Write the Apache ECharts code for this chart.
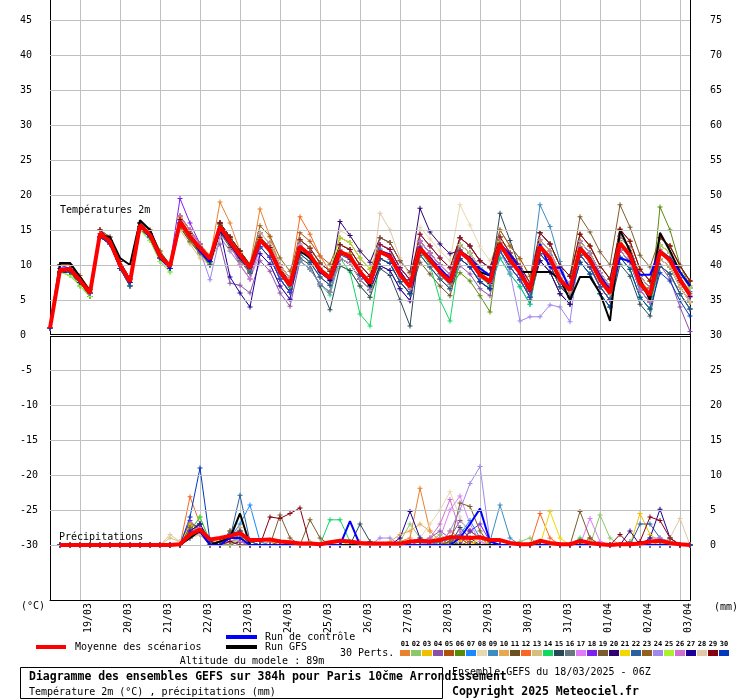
<!DOCTYPE html>
<html><head><meta charset="utf-8">
<script src="https://cdn.jsdelivr.net/npm/echarts@6/dist/echarts.min.js"></script>
<style>html,body{margin:0;padding:0;background:#fff}#c{width:740px;height:700px}</style>
</head><body><div id="c"></div>
<script>
// ---- tick labels ----
const dayLabels = ['19/03','20/03','21/03','22/03','23/03','24/03','25/03','26/03','27/03','28/03','29/03','30/03','31/03','01/04','02/04','03/04'];
const tempTicks = [-30,-25,-20,-15,-10,-5,0,5,10,15,20,25,30,35,40,45];
const precipTicks = [0,5,10,15,20,25,30,35,40,45,50,55,60,65,70,75];
const memberColors = ['#E8822E','#8CC86A','#F0C000','#8A50A8','#B0500E','#5A8A0A','#1A88FF','#E8D8B0','#3C8CC0','#E8A850','#6A5020','#F86820','#D4C07A','#10D860','#284858','#687880','#E07CF8','#8020F0','#7C5C2C','#300070','#F0D800','#2860A0','#90601C','#A088EC','#A8F030','#D070D0','#1C0098','#E0C8A8','#880010','#0038C0'];

// ---- temperature (°C), every 6h from 18/03 06Z ----
const meanT = [1.0, 9.3,9.4,7.8,6.0, 14.5,13.3,10.0,7.6, 15.7,14.3,11.3,9.8, 16.2,14.0,12.4,10.9, 15.5,13.3,11.4,9.6, 13.6,12.1,9.0,7.1, 12.6,11.4,9.3,8.1, 11.9,11.2,9.0,7.4, 11.9,11.2,8.6,6.9, 12.4,10.7,9.0,7.6, 11.9,10.7,8.6,7.6, 13.0,10.7,8.9,6.4, 12.6,11.0,7.9,6.4, 12.4,10.7,7.9,6.0, 13.1,11.4,7.4,5.7, 11.9,10.7,7.9,5.7];
const ctrlT = [1, 9.5,9.5,8,6, 14.5,13,10,7.5, 15.5,14,11,9.5, 16,14,12,10.5, 15,13,11,9.5, 13.5,12,9,7, 12.5,11.5,9,8, 12,11,9,7.5, 12,11.5,9,7, 12.5,11,9.5,8, 12,11,9.5,8.5, 13,11.5,9.5,6.5, 13,9.6,9.6,6.5, 12.5,11,8.5,6.5, 11,10.5,8.6,8.6, 12,11,9,7];
const gfsT = [1, 10.3,10.3,8.3,6.2, 14.3,14,11,10, 16.4,15,11.5,10, 16,14,12,10.5, 15,13,11,9.5, 13.5,12,9,7, 12,11,9,8, 12,11,9,7, 12,11,9,7, 12,11,9,8, 12,11,9,8.5, 13,11,9,9, 9,9,8,5, 8.3,8.3,6,2, 15,12,8,5, 14.6,12,9,7];
const memT01 = [1, 10,10,8,6.5, 15,13.5,10,7.5, 16,14.5,11,9.5, 17,15,13,11, 19,16,12,10, 18,14,10,8, 13.6,12.4,10.3,9.1, 11.9,11.7,9.0,7.9, 12.9,12.2,9.6,7.9, 11.4,9.7,8.0,6.6, 12.9,11.7,9.6,8.6, 15.0,12.7,10.9,8.4, 12.6,11.0,7.9,6.4, 13.4,11.7,8.9,7.0, 15.1,13.4,9.4,7.7, 12.9,11.7,8.9,6.7];
const memT02 = [1, 9,9,7.5,5.5, 14,13,9.5,7, 15,14,11,9.5, 15.5,13.5,11.8,10.2, 14.8,12.6,10.8,9.0, 12.6,11.1,8.0,6.1, 11.6,10.4,8.3,7.1, 9.9,9.2,7.0,5.4, 10.9,10.2,7.6,5.9, 12.8,10.5,9.3,7.9, 11.5,10.9,8.2,7.2, 12.0,9.7,7.9,5.4, 13.0,11.3,8.3,6.8, 11.4,9.7,6.9,5.0, 12.7,11.0,7.0,5.2, 12.3,11.0,8.3,6.0];
const memT03 = [1, 9.5,9.5,8,6, 14.5,13,10,8, 16,14,11,9.5, 16.6,14.4,12.8,11.2, 15.8,13.8,11.8,10.0, 13.9,12.4,9.3,7.4, 13.6,12.4,10.3,9.1, 12.9,12.2,10.0,8.4, 10.9,10.2,7.6,5.9, 13.4,11.7,10.0,8.6, 10.9,9.7,7.6,6.6, 13.3,11.0,9.2,6.8, 13.6,12.0,8.9,7.4, 12.7,11.0,8.2,6.3, 12.1,10.4,6.4,4.7, 12.9,11.7,8.9,6.7];
const memT04 = [1, 9.5,9,7.5,6, 14,13,10,7.5, 15.5,14,11,10, 16,14,12,11, 13,7.4,7.1,6, 10.6,9.1,6.0,4.1, 10.6,9.4,7.3,6.1, 10.9,10.2,8.0,6.4, 9.9,9.2,6.6,4.9, 11.4,9.7,8.0,6.6, 9.9,8.7,6.6,5.6, 12.0,9.7,7.9,5.4, 10.6,9.0,5.9,4.4, 11.4,9.7,6.9,5.0, 12.1,10.4,6.4,4.7, 10,8,4,0.5];
const memT05 = [1, 10,10,8.5,6.5, 15,14,10.5,8, 16,15,12,10, 17,15,13,11, 16,14,12,10, 14.6,13.1,10.0,8.1, 14.6,13.4,11.3,10.1, 13.9,13.2,11.0,9.4, 12.9,12.2,9.6,7.9, 14.4,12.7,11.0,9.6, 13.9,12.7,10.6,9.6, 14.0,11.7,9.9,7.4, 13.6,12.0,8.9,7.4, 14.4,12.7,9.9,8.0, 15.1,13.4,9.4,7.7, 12.9,11.7,8.9,6.7];
const memT06 = [1, 9,9,7,5.5, 14,13,10,7.5, 15,14,11,10, 15.5,13.4,11.8,10.4, 15.8,13.8,11,9.2, 12.6,11.1,8.0,6.1, 12.2,11.8,9.6,8.5, 10.9,10.2,8.0,6.4, 12.9,12.2,9.6,7.9, 11.4,9.7,8.0,6.6, 8.9,7.7,5.6,3.3, 14.0,11.7,9.9,7.4, 11.6,10.0,6.9,5.4, 12.0,10.4,8.3,6.4, 11.1,9.4,5.4,3.7, 18.3,15,10,7];
const memT07 = [1, 10,9.5,8,6, 14.5,13.5,10,7.5, 15.5,14,11,9.5, 16.4,14.2,12.6,11.0, 15.2,13.0,11.2,9.8, 13.4,12.3,8.8,7.3, 11.6,10.4,8.3,7.1, 12.9,12.2,10.0,8.4, 12.3,10.8,8.9,7.3, 13.4,11.7,10.0,8.6, 10.9,9.7,7.6,6.6, 11.0,8.7,6.9,4.4, 12.2,11.4,7.5,6.0, 11.4,9.7,6.9,5.0, 14.1,12.4,8.4,6.7, 11.5,11.0,8.2,6.2];
const memT08 = [1, 9,9,8,6, 14,13,10,8, 16,14,11,10, 16,14,12,11, 15,14,12,10, 14.6,13.1,10.0,8.1, 13.6,12.4,10.3,9.1, 14.9,14.2,12.0,10.4, 12.9,12.2,9.6,7.9, 15.4,13.7,12.0,10.6, 18.6,15.7,12.6,10.6, 13.4,11.0,9.3,6.8, 13.6,12.0,8.9,7.4, 13.4,11.7,8.9,7.0, 12.7,11.8,7.8,6.1, 12.9,11.7,8.9,6.7];
const memT09 = [1, 9.5,9.5,8,6, 14,13,10,7.5, 16,14,11,9.5, 16,14,12,11, 16,14,11,9, 14.0,12.5,8.6,6.8, 13.0,11.0,9.0,7.7, 10.9,10.2,8.0,6.4, 12.9,12.2,9.6,7.9, 12.0,11.1,8.6,7.2, 12.9,11.7,9.6,8.6, 14.0,11.7,9.9,7.4, 18.6,15.5,10.5,6.0, 11.4,9.7,6.9,5.0, 13.5,11.0,7.0,5.3, 10.9,9.7,6.9,4.7];
const memT10 = [1, 10,9.5,8,6.5, 15,13.5,10.5,8, 16,14.5,11.5,10, 16.8,14.6,13.0,11.4, 16.1,13.9,12.0,10.2, 14.6,13.1,10.0,8.1, 12.4,11.7,9.6,8.4, 12.2,10.9,9.3,7.8, 12.9,12.2,9.6,7.9, 12.7,11.0,8.7,7.3, 12.9,11.7,9.6,8.6, 12.6,10.4,9.2,6.9, 11.6,10.0,6.9,5.4, 13.4,11.7,8.9,7.0, 13.3,11.9,7.9,6.2, 13.9,12.7,9.9,7.7];
const memT11 = [1, 9,9,7.5,6, 14,13,9.5,7, 15.5,14,11,9.5, 15.4,13.3,11.6,10.0, 14.6,12.5,10.6,8.8, 12.6,11.1,8.0,6.1, 10.6,9.4,7.3,6.1, 11.6,11.5,8.7,7.0, 10.9,10.2,7.6,5.9, 10.4,8.7,7.0,5.6, 10.9,9.7,7.6,6.6, 12.0,9.7,7.9,5.4, 10.6,9.0,5.9,4.4, 11.4,9.7,6.9,5.0, 12.1,10.4,6.4,4.7, 9.9,8.7,5.9,3.7];
const memT12 = [1, 10,10,8,6, 15,13.5,10,7.5, 16,14.5,11.5,10, 16.5,14.5,12.5,11, 16,14,12,10, 14.6,13.1,10.0,8.1, 16.9,14.4,11.3,9.1, 12.9,12.2,10.0,8.4, 11.5,11.5,8.3,6.5, 13.4,11.7,10.0,8.6, 12.2,10.3,8.9,7.9, 14.0,11.7,9.9,7.4, 12.9,10.6,7.6,6.1, 11.4,9.7,6.9,5.0, 14.1,12.4,8.4,6.7, 12.2,10.4,7.6,5.4];
const memT13 = [1, 9.5,9,8,6, 14,13,10,8, 15.5,14,11,10, 15,13,11,10, 14,12,10,8, 12.6,11.1,8.0,6.1, 12.9,11.1,9.0,7.8, 12.9,12.2,10.0,8.4, 11.6,11.0,8.9,7.2, 11.4,9.7,8.0,6.6, 11.6,11.0,8.3,7.3, 14.0,11.7,9.9,7.4, 12.3,11.2,8.2,6.7, 13.4,11.7,8.9,7.0, 12.1,10.4,6.4,4.7, 10.9,9.7,6.9,4.7];
const memT14 = [1, 9,8.5,7,5.5, 14,13,9.5,7, 15,13.5,10.5,9, 16,14,12,10, 15,13,11,9, 12.6,11.1,8.0,6.1, 10.6,9.4,7.3,5.7, 11,9,3,1.3, 10.9,10.2,7.6,5.9, 12,10,5,2, 11.7,10.4,8.4,7.0, 11.0,8.7,6.9,4.4, 11.6,10.0,6.9,5.4, 10.4,8.7,5.9,4.0, 11.1,9.4,5.4,3.7, 10.9,9.7,6.9,4.7];
const memT15 = [1, 9.5,9,7.5,5.5, 14,13,9.5,7, 15.5,14,11,9.5, 16,14,12,10.5, 15,13,11,9, 13.6,12.1,9.0,6.5, 11,10,7,3.6, 9.9,9.2,7.0,5.4, 9.5,8.5,5,1.3, 13.4,11.7,10.0,8.6, 12.1,10.5,8.8,7.4, 17.4,13.5,9.5,5.0, 11.6,10.0,6.9,5.4, 10.4,8.7,5.9,4.0, 10.1,8.4,4.4,2.7, 9.9,8.7,5.9,3.7];
const memT16 = [1, 9.5,9.5,8,6, 14.5,13,10,7.5, 15.5,14,11,10, 16.0,14.2,12.2,11.1, 15.5,13.5,11.6,9.9, 13.3,12.4,9.3,7.4, 13.6,12.4,10.3,9.1, 10.9,10.2,8.0,6.4, 12.1,11.4,8.4,6.7, 13.4,11.7,10.0,8.6, 12.9,11.7,9.6,8.6, 12.0,9.7,7.9,5.4, 13.6,12.0,8.9,7.4, 12.6,10.9,7.7,5.8, 14.1,12.4,8.4,6.7, 11.7,10.9,8.1,5.9];
const memT17 = [1, 9.5,9,8,6, 15,14,10.5,8, 16,14.5,11.5,10, 17,15,12.5,11, 15,13,10,8, 11.6,10.1,7.0,5.1, 12.8,11.6,9.1,7.9, 12.9,12.2,10.0,8.4, 12.9,12.2,9.6,7.9, 14.4,12.7,11.0,9.6, 11.4,10.9,8.8,7.8, 14.0,11.7,9.9,7.4, 14.6,13.0,9.9,8.4, 11.4,9.7,6.9,5.0, 14.1,12.4,8.4,6.7, 12.9,11.7,8.9,6.7];
const memT18 = [1, 10,9.5,8,6, 14.5,13.5,10,8, 16,14.5,11.5,10, 19.5,16,13,11, 16,14,12,10, 14.6,13.1,10.0,8.1, 12.5,11.2,9.5,8.3, 10.9,10.2,8.0,6.4, 12.9,12.2,9.6,7.9, 12.6,10.9,9.2,7.8, 13.9,12.7,10.6,9.6, 12.8,10.9,8.6,6.2, 11.6,10.0,6.9,5.4, 13.4,11.7,8.9,7.0, 14.1,12.4,8.4,6.7, 10.9,9.7,6.9,4.7];
const memT19 = [1, 9.5,9.5,8,6, 14.5,13,10,7.5, 15.5,14,11,9.5, 16,14,12,10.5, 16,14,12,10, 14.6,13.1,10.0,8.1, 13.6,12.4,10.3,9.1, 12.1,11.0,9.2,7.6, 10.9,10.2,7.6,5.9, 12.2,10.5,9.2,7.9, 12.9,11.7,9.6,8.6, 13.2,10.9,9.1,6.6, 14.6,13.0,9.9,8.4, 16.9,14.7,11.9,10.0, 18.6,15.4,11.4,9.7, 13.9,12.7,9.9,7.7];
const memT20 = [1, 9,9,7.5,6, 14,13,10,7.5, 15.5,14,11,10, 16,14,12,11, 16,13,11,9, 12.6,11.1,8.0,6.1, 12.3,11.8,9.0,7.8, 16.2,14.2,12.0,10.4, 13.9,13.2,10.6,8.9, 18.1,14.7,13.0,11.6, 12.1,10.9,8.4,7.4, 12.0,9.7,7.9,5.4, 12.4,10.8,8.1,6.6, 11.4,9.7,6.9,5.0, 12.1,10.4,6.4,4.7, 10.9,9.7,6.9,4.7];
const memT21 = [1, 9.5,9,8,6, 14.5,13,10,8, 15.5,14,11,10, 16,14,12,11, 15,13,11,10, 13.8,11.9,9.2,7.3, 11.6,10.4,8.3,7.1, 11.7,11.4,8.8,7.2, 10.9,10.2,7.6,5.9, 11.4,9.7,8.0,6.6, 10.9,9.7,7.6,6.6, 14.0,11.7,9.9,7.4, 11.6,10.0,6.9,5.4, 12.2,10.9,8.1,6.2, 14.1,12.4,8.4,6.7, 10.9,9.7,6.9,4.7];
const memT22 = [1, 9.5,9.5,8,6, 14.5,13,10,7.5, 15.5,14,11,9.5, 16,14,12,11, 15,13,11,9, 12.6,11.1,8.0,6.1, 13.6,12.4,10.3,9.1, 12.0,11.3,8.8,7.1, 10.9,10.2,7.6,5.9, 12.5,10.6,8.8,7.5, 12.9,11.7,9.6,8.6, 12.0,9.7,7.9,5.4, 14.6,13.0,9.9,8.4, 11.4,9.7,6.9,5.0, 13.0,11.2,7.3,5.5, 9.9,8.7,5.9,3.7];
const memT23 = [1, 10,10,8,6.5, 15,14,10.5,8, 16,15,12,10, 17,15,13,11, 16,14,12,10, 15.6,14.1,11.0,9.1, 13.6,12.4,10.3,9.1, 12.9,12.2,10.0,8.4, 13.9,13.2,10.6,8.9, 13.4,11.7,10.0,8.6, 13.9,12.7,10.6,9.6, 15.0,12.7,10.9,8.4, 14.6,13.0,9.9,8.4, 14.4,12.7,9.9,8.0, 14.1,12.4,8.4,6.7, 13.9,12.7,9.9,7.7];
const memT24 = [1, 9.5,9,7.5,6, 14,13,9.5,7.5, 15.5,14,11,9.5, 16,14,12,7.9, 14,12,10,8, 12.6,11.1,8.0,6.1, 10.6,9.4,7.3,6.1, 10.9,10.2,8.0,6.4, 11.7,11.0,8.4,6.6, 13.4,11.7,10.0,8.6, 12.0,10.6,8.5,7.5, 12,9,2,2.6, 2.6,4.3,4,1.9, 12.5,10.6,8.0,6.1, 12.1,10.4,6.4,4.7, 12.9,11.7,8.9,6.7];
const memT25 = [1, 9,8.5,7,5.5, 14,13,9.5,7, 15,13.5,10.5,9, 16,14,12,10, 15,13,11,9, 13.5,12.3,9.1,7.0, 13.6,12.4,10.3,9.1, 13.9,13.2,11.0,9.4, 11.8,11.3,8.7,7.0, 11.4,9.7,8.0,6.6, 12.9,11.7,9.6,8.6, 13.1,10.8,8.8,6.3, 13.6,12.0,8.9,7.4, 12.3,10.8,7.8,5.9, 13.2,11.5,7.5,5.8, 12.9,11.7,8.9,6.7];
const memT26 = [1, 9.5,9.5,8,6, 14.5,13.5,10,8, 16,14.5,11.5,10, 17,15,13,11, 15,13,10,8, 12.6,11.1,8.0,6.1, 12.7,11.5,9.4,8.2, 11.8,11.1,9.1,7.5, 12.9,12.2,9.6,7.9, 13.4,11.7,10.0,8.6, 11.8,10.8,8.5,7.7, 14.0,11.7,9.9,7.4, 13.6,12.0,8.9,7.4, 12.4,10.6,8.0,6.1, 12.1,10.4,6.4,4.7, 12.0,10.8,7.8,5.6];
const memT27 = [1, 9,9,7.5,6, 14,13,9.5,7.5, 15.5,14,11,9.5, 16,14,12,10, 15,8.3,6,4, 11.6,10.1,7.0,5.1, 12.4,11.2,9.2,7.9, 10.9,10.2,8.0,6.4, 9.9,9.2,6.6,4.9, 12.3,10.8,9.1,7.7, 10.9,9.7,7.6,6.6, 13.0,10.5,8.7,6.3, 10.6,9.0,5.9,4.4, 13.4,11.7,8.9,7.0, 14.1,12.4,8.4,6.7, 11.9,10.6,7.8,5.5];
const memT28 = [1, 9.5,9.5,8,6, 14.5,13,10,8, 15.5,14,11,10, 16,14,12,11, 15,13,11,9, 14.6,13.1,10.0,8.1, 13.6,12.4,10.3,9.1, 10.9,10.2,8.0,6.4, 17.4,15.0,11.0,8.5, 11.4,9.7,8.0,6.6, 12.9,11.7,9.6,8.6, 12.0,9.7,7.9,5.4, 12.7,11.1,7.8,6.3, 13.4,11.7,8.9,7.0, 14.1,12.4,8.4,6.7, 10.9,9.7,6.9,4.7];
const memT29 = [1, 10,10,8,6.5, 15,13.5,10.5,8, 16,14.5,11.5,10, 16.5,14.5,12.5,11, 16,14,12,10, 13.9,12.5,9.6,7.6, 13.6,12.4,10.3,9.1, 12.9,12.2,10.0,8.4, 12.9,12.2,9.6,7.9, 14.4,12.7,11.0,9.6, 13.9,12.7,10.6,9.6, 14.0,11.7,9.9,7.4, 14.6,13.0,9.9,8.4, 14.4,12.7,9.9,8.0, 15.1,13.4,9.4,7.7, 13.9,12.7,9.9,7.7];
const memT30 = [1, 9.5,9,7.5,6, 14,13,9.5,7, 15.5,14,11,9.5, 16,14,12,10.5, 15,13,11,9, 12.6,11.1,8.0,6.1, 11.6,10.4,8.3,7.1, 11.5,10.8,8.6,7.0, 10.9,10.2,7.6,5.9, 11.4,9.7,8.0,6.6, 10.9,9.7,7.6,6.6, 12.0,9.7,7.9,5.4, 11.6,10.0,6.9,5.4, 10.4,8.7,5.9,4.0, 11.1,9.4,5.4,3.7, 8.9,7.7,4.9,2.7];

// ---- precipitation (mm per 6h) ----
const meanP = [null, 0,0,0,0, 0,0,0,0, 0,0,0,0, 0.1,1.5,2.2,0.8, 1.0,1.3,1.7,0.7, 0.7,0.8,0.5,0.4, 0.2,0.2,0.1,0.4, 0.6,0.5,0.3,0.2, 0.2,0.2,0.2,0.5, 0.6,0.5,0.7,1.1, 1.1,1.0,1.1,0.7, 0.7,0.3,0.1,0.1, 0.6,0.3,0.1,0.1, 0.6,0.3,0.1,0, 0.1,0.1,0.2,0.5, 0.6,0.3,0.1,0];
const ctrlP = [null, 0,0,0,0, 0,0,0,0, 0,0,0,0, 0,1.5,2,0, 0,1,1,0, 0,0,0,0, 0,0,0,0, 0,3.4,0,0, 0,0,0,0, 0,0,0,0, 1,3,5.2,0.5, 0,0,0,0, 0,0,0,0, 0,0,0,0, 0,0,0,0, 0,0,0,0];
const gfsP = [null, 0,0,0,0, 0,0,0,0, 0,0,0,0, 0,1,2,0, 0.5,1,4.5,0, 0,0,0,0, 0,0,0,0, 0,0,0,0, 0,0,0,0, 0,0,0,0, 0,0,0,0, 0,0,0,0, 0,0,0,0, 0,0,0,0, 0,0,0,0, 0,0,0,0];
const memP01 = [null, 0,0,0,0, 0,0,0,0, 0,0,0,0, 0,3,2,0.5, 0.5,1,2,0.5, 0,0.5,0,0, 0,0,0,0, 0,0,0.5,0, 0,0,0.5,1, 8.1,2,0.5,0, 1,0.5,0,0, 0,0,0,0, 0,0,0,0, 0,0,0,0, 0,0,0,0.5, 0,0,0,0];
const memP02 = [null, 0,0,0,0, 0,0,0,0, 0,0,0,0, 0,1,2,0.5, 0,2,1,0, 0,0,0,0, 0,0.5,0,0, 0,0,0,0.5, 0,0,0.5,3, 1,0.5,1.5,0.5, 0,0,0,0, 0,0,0.5,1, 0,0,0,0, 0,0,4.3,1, 0,0,0,0, 0,0.5,0,0];
const memP03 = [null, 0,0,0,0, 0,0,0,0, 0,0,0,0, 0,2,4,0.5, 0,0.5,1,0, 0,0,0,0, 0,0,0,0, 0.5,0,0,0, 0,0,0,0, 0,1,0,0, 0.5,1,0,0, 0,0,0,0, 0,0,0,0, 0,0,0,0, 0,0,4.5,1.5, 0.5,0,0,0];
const memP04 = [null, 0,0,0,0, 0,0,0,0, 0,0,0,0, 0,1.5,3,0.5, 0,1,1.5,0, 0,0,0,0, 0,0,0,0, 0,0,0,0, 0,0,0,0, 0.5,1,2,1, 3.5,2,1,0, 0,0,0,0, 0,0,0,0, 0,0,0,0, 0,0,0,0, 0,0,0,0];
const memP05 = [null, 0,0,0,0, 0,0,0,0, 0,0,0,0, 0,3,2.5,0, 0,1.5,1,0, 0,0,0,0, 0,0,0,0, 0,0,0,0, 0,0,0,0, 0,0,0.5,0, 0,0.5,0,0, 0,0,0,0, 0,0,0,0, 0,1,0,0, 0,0,0,0, 0,0,0,0];
const memP06 = [null, 0,0,0,0, 0,0,0,0, 0,0,0,0, 0,2,3,0.5, 0,0.5,1,0, 0,0,0,0, 0,0,0,0, 0,0,0,0, 0,0,0,0, 0,0,1,0, 0,0,0,0, 0,0,0,0, 0,0,0,0, 0,0,0,0, 0,0,0,0, 0,1,0,0];
const memP07 = [null, 0,0,0,0, 0,0,0,0, 0,0,0,0, 0,1,2,0, 0,1,3,5.7, 0.5,0,0,0, 0,0,0,0, 0,0,0,0, 0,0,0,0, 0,0.5,0,1, 1.5,3.5,1,0, 0,0,0,0, 0,0,0,0, 0,0,0,0, 0,0,0,0, 0,0,0,0];
const memP08 = [null, 0,0,0,0, 0,0,0,0, 0,0,0,0, 0,1,1.5,0, 1,0,0,0, 0,0,0,0, 0,0,0,0, 0,0,0,0, 0,0,0,0, 1,3,5,7.6, 4,1,0,0, 0,0,0,0, 0,0,0,0, 0,0,0,0, 0,0,0,0, 0,0,0,0];
const memP09 = [null, 0,0,0,0, 0,0,0,0, 0,0,0,0, 0,2,3,0, 0,0.5,0,0, 0,0,0,0, 0,0,0,0, 0,0,0,0, 0,0,0,0, 0,0,0.5,1, 0,0,0,0.5, 5.7,1,0,0, 0,0,0,0, 0,0,0,0, 0,0,0,0, 0,0,0,0];
const memP10 = [null, 0,0,0,0, 0,0,0,0, 0,0,0,0, 0,1.5,2,0, 0,1,2.5,0, 0,0,0,0, 0,0,0,0, 0,0,0,0, 0,0.5,1.5,2, 3,2,0.5,0, 0,0,0,0, 0,0,0,0, 0,0,0,0, 0,0,0,0, 0,0,0,0, 0,0,0,0];
const memP11 = [null, 0,0,0,0, 0,0,0,0, 0,0,0,0, 0,2,1.5,0, 0,0,1,0, 0,0,0.5,0, 0,0,0,0, 0,0,0,0, 0,0,0,0, 0,0,0,0.5, 0,2,1,0, 0,0,0,0, 0,0,0,0, 0,0,0,0, 0,0,0,0, 0,0,0,0];
const memP12 = [null, 0,0,0,0, 0,0,0,0, 0,0,0,0, 0,6.9,3,0.5, 0,1,1.5,0, 0,0,0,0, 0,0,0,0, 0,0,0,0, 0,0,0,0, 0,0,0,2, 1,0,0,0, 0,0,0,0, 4.5,1,0,0, 0,0,0,0, 0,0,0,0, 0,0,0,0];
const memP13 = [null, 0,0,0,0, 0,0,0,0, 0,0,0,1, 0.5,1.5,2,0, 0,0.5,0.5,0, 0,0,0,0, 0,0,0,0, 0,0,0,0, 0,0,0,0, 0,0,0,0, 0,0,0,0.5, 0,0,0,0, 0,0,0,0, 0,0,0,0, 0,0,0,0, 0,0,0,0];
const memP14 = [null, 0,0,0,0, 0,0,0,0, 0,0,0,0, 0,2,4,0.5, 0,0.5,0,0, 0,0,0,0, 0,0,0,3.6, 3.6,0.5,0,0, 0,0,0,0, 0,0,0,0, 0,0,0,0, 0,0,0,0, 0,0,0,0, 1,0,0,0, 0,0,0,0, 0,0,0,0];
const memP15 = [null, 0,0,0,0, 0,0,0,0, 0,0,0,0, 0,3,2,0, 0,1.5,1,0.5, 0,0,0,0, 0,0,0,0, 0,0,3,0.5, 0,0,0,0, 0,0,0,0, 2.5,1,0,0, 0,0,0,0, 0,0,0,0, 0,0,0,0, 0,0,0,0, 0,0,0,0];
const memP16 = [null, 0,0,0,0, 0,0,0,0, 0,0,0,0, 0,1,2,0, 0,2,1,0, 0,0,0,0, 0,0,0,0, 0,0,0,0, 0,0,0,0, 0,0,0,0, 0,0,0,0, 0,0,0,0, 0,0,0,0, 0,0,0,0, 0,0.5,0,0, 0,0,0,0];
const memP17 = [null, 0,0,0,0, 0,0,0,0, 0,0,0,0, 0,2,1.5,0, 0,0.5,1,0, 0,0,0,0, 0,0,0,0, 0,0,0,0, 0,0,0,0, 0,0,1,5, 7,3,0.5,0, 0,0,0,0, 0,0,0,0, 0,3.8,0.5,0, 0,0,0,0, 0,0,0,0];
const memP18 = [null, 0,0,0,0, 0,0,0,0, 0,0,0,0, 0,3.5,2,0, 0,1.5,1,0, 0,0,0,0, 0,0,0,0, 0,0,0,0, 0,0,0,0, 0,0,0,0, 0,2,3,0.5, 0,0,0,0, 0,0,0,0, 0,0,0,0, 0,0,0,0, 0,0,0,0];
const memP19 = [null, 0,0,0,0, 0,0,0,0, 0,0,0,0, 0,2.5,3,0, 0,2,1.5,0, 0,0,4.3,1, 0,3.6,1,0, 0,0,0,0, 0,0,0,0, 0,0,0,0, 6,5.5,2,0, 0,0,0,0, 0,0,0,0, 4.8,1,0,0, 0,0,0,0, 0,0,0,0];
const memP20 = [null, 0,0,0,0, 0,0,0,0, 0,0,0,0, 0,1,2.5,0, 0,0,0.5,0, 0,0,0,0, 0,0,0,0, 0,0,0,0, 0,0,0,0, 0,0,0,0, 0,0,0,0, 0,0,0,0, 0,0,0,0, 0,0,0,0, 0,2,0,0, 0,0,0,0];
const memP21 = [null, 0,0,0,0, 0,0,0,0, 0,0,0,0, 0,3,2,0.5, 0,1,1.5,0, 0,0,0,0, 0,0,0,0, 0,0,0,0, 0,0,0,0, 0,0,0,0, 0,0,1,0, 0,0,0,0, 0,4.8,1,0, 0,0,0,0, 0,0,0,0, 0,0,0,0];
const memP22 = [null, 0,0,0,0, 0,0,0,0, 0,0,0,0, 0,2,3,0, 0,1,7.1,0.5, 0,0,0,0, 0,0,0,0, 0,0,0,0, 0,0,0,0, 0,0,0,0, 0,0,0,0, 0,0,0,0, 0,0,0,0, 0,0,0,0, 0,0,3,3, 1,0,0,0];
const memP23 = [null, 0,0,0,0, 0,0,0,0, 0,0,0,0, 0,2.5,2,0, 0,1,2,0, 0,0,0,0, 0,0,0,0, 0,0,0,0, 0,0,0,0, 0,0,0,0.5, 1,0,0,0, 0,0,0,0, 0,0,0,0, 0,0,0,0, 0,0,0,0, 0,0,0,0];
const memP24 = [null, 0,0,0,0, 0,0,0,0, 0,0,0,0, 0,1,2,0, 0,0.5,1,0, 0,0,0,0, 0,0,0,0, 0,0,0,0, 1,1,0,0.5, 0.5,0,0,2, 5,8.8,11.2,0.5, 0,0,0,0, 0,0,0,0, 0,0,0,0, 0,0,0,1, 1,0.5,0,0];
const memP25 = [null, 0,0,0,0, 0,0,0,0, 0,0,0,0, 0,1.5,2,0, 0,0,1,0, 0,0,0,0, 0,0,0,0, 0,0,0,0, 0,0,0,0, 0,0,0,0, 0,0,0,0, 0,0,0,0, 0,0,0,0, 0,0,0,0, 0,0,0,0, 0,0.5,0,0];
const memP26 = [null, 0,0,0,0, 0,0,0,0, 0,0,0,0, 0,2,2.5,0, 0,1.5,0.5,0, 0,0,0,0, 0,0,0,0, 0,0,0,0, 0,0,0,0, 0,1,3,6.5, 2,0,0,0, 0,0,0,0, 0,0,0,0, 0,0,0,0, 0,0,0,0, 0,0,0,0];
const memP27 = [null, 0,0,0,0, 0,0,0,0, 0,0,0,0, 0,2,3,0.5, 0,1,1,0, 0,0,0,0, 0,0,0,0, 0,0,0,0, 0,0,1,4.8, 1,0,0,0, 0,0,0,0, 0,0,0,0, 0,0,0,0, 0,0,0,0, 0,0,0,1, 5.1,1,0,0];
const memP28 = [null, 0,0,0,0, 0,0,0,0, 0,0,0,1.5, 0.5,1,1.5,0, 0,0.5,0,0, 0,0,0,0, 0,0,0,0, 0,0,0,0, 0,0,0,0, 0,0,0,0, 0,0,0,0, 0,0,0,0, 0,0,0,0, 0,0,0,0, 0,0,0,0, 0,1,3.8,0];
const memP29 = [null, 0,0,0,0, 0,0,0,0, 0,0,0,0, 0,1.5,2,0, 0,0.5,0,0, 0,4,3.8,4.5, 5.3,0,0,0, 0,0,0,0, 0,0,0,0, 0,0,0,0, 0,0,0,0, 0,0,0,0, 0,0,0,0, 0,0,0,0, 1.5,0,0.5,4, 3.5,1,0,0];
const memP30 = [null, 0,0,0,0, 0,0,0,0, 0,0,0,0, 0,4,11,0.5, 0,1.5,2,0, 0,0,0,0, 0,0,0,0, 0,0,0,0, 0,0,0,0, 0,0,0,0, 0,0,0,0, 0,0,0,0, 0,0,0,0, 0,0,0,0, 0,0,0,0, 0,0,0,0];

const memT = [memT01,memT02,memT03,memT04,memT05,memT06,memT07,memT08,memT09,memT10,memT11,memT12,memT13,memT14,memT15,memT16,memT17,memT18,memT19,memT20,memT21,memT22,memT23,memT24,memT25,memT26,memT27,memT28,memT29,memT30];
const memP = [memP01,memP02,memP03,memP04,memP05,memP06,memP07,memP08,memP09,memP10,memP11,memP12,memP13,memP14,memP15,memP16,memP17,memP18,memP19,memP20,memP21,memP22,memP23,memP24,memP25,memP26,memP27,memP28,memP29,memP30];

// ---- build chart ----
const N = meanT.length;
[meanT,ctrlT,gfsT,meanP,ctrlP,gfsP].concat(memT, memP).forEach((a,k)=>{ if(a.length!==N) console.error('length mismatch', k, a.length); });
const categories = [];
for (let i = 0; i < N; i++) categories.push(String(i * 6));
const isDay = idx => idx >= 3 && (idx - 3) % 4 === 0;

const FONT = '"DejaVu Sans Mono", monospace';
const plus = 'path://M2,0L3,0L3,2L5,2L5,3L3,3L3,5L2,5L2,3L0,3L0,2L2,2Z';

const series = [];
series.push({
  type: 'line', data: [], yAxisIndex: 0, z: 1, silent: true,
  markLine: {
    silent: true, symbol: 'none', animation: false, label: { show: false },
    emphasis: { disabled: true },
    lineStyle: { color: '#c0c0c0', width: 1, type: 'solid' },
    data: tempTicks.filter(v => v !== 0).map(v => ({ yAxis: v }))
      .concat([{ yAxis: 0, lineStyle: { color: '#000', width: 3, type: 'solid' } }])
  }
});
series.push({
  type: 'line', data: [], yAxisIndex: 0, z: 1, silent: true,
  markLine: {
    silent: true, symbol: 'none', animation: false, label: { show: false },
    emphasis: { disabled: true },
    lineStyle: { color: '#fff', width: 1, type: 'solid' },
    data: [{ yAxis: 0 }]
  }
});
function memberSeries(data, color, axis) {
  return {
    type: 'line', data: data, yAxisIndex: axis, z: 2, silent: true,
    symbol: plus, symbolSize: 5, showAllSymbol: true,
    itemStyle: { color: color }, lineStyle: { color: color, width: 1 },
    emphasis: { disabled: true }, connectNulls: false
  };
}
for (let k = 0; k < memT.length; k++) {
  series.push(memberSeries(memT[k], memberColors[k], 0));
  series.push(memberSeries(memP[k], memberColors[k], 1));
}
function thick(data, color, width, axis, z) {
  return {
    type: 'line', data: data, yAxisIndex: axis, z: z, silent: true,
    symbol: 'none', lineStyle: { color: color, width: width },
    emphasis: { disabled: true }
  };
}
series.push(thick(gfsT, '#000000', 2, 0, 3), thick(gfsP, '#000000', 2, 1, 3));
series.push(thick(ctrlT, '#0000FF', 2, 0, 4), thick(ctrlP, '#0000FF', 2, 1, 4));
series.push(thick(meanT, '#FF0000', 4, 0, 5), thick(meanP, '#FF0000', 4, 1, 5));

function txt(x, y, s, opts) {
  return {
    type: 'text', x: x, y: y, z: 100, silent: true,
    style: Object.assign({ text: s, fill: '#000', font: '10px ' + FONT, align: 'left', verticalAlign: 'middle', textAlign: 'left', textVerticalAlign: 'middle' }, opts || {})
  };
}
const graphics = [
  txt(60, 210, 'Températures 2m'),
  txt(59, 537, 'Précipitations'),
  txt(21, 606, '(°C)'),
  txt(714, 607, '(mm)'),
  { type: 'rect', silent: true, shape: { x: 36, y: 645, width: 30, height: 4 }, style: { fill: '#FF0000' } },
  txt(75, 647, 'Moyenne des scénarios'),
  { type: 'rect', silent: true, shape: { x: 226, y: 635, width: 31, height: 4 }, style: { fill: '#0000FF' } },
  txt(265, 637, 'Run de contrôle'),
  { type: 'rect', silent: true, shape: { x: 226, y: 645, width: 31, height: 4 }, style: { fill: '#000000' } },
  txt(265, 647, 'Run GFS'),
  txt(340, 653, '30 Perts.'),
  txt(252, 661, 'Altitude du modele : 89m', { align: 'center', textAlign: 'center' }),
  { type: 'rect', silent: true, shape: { x: 20.5, y: 667.5, width: 422, height: 31 }, style: { fill: 'none', stroke: '#000', lineWidth: 1 } },
  txt(452, 672, 'Ensemble GEFS du 18/03/2025 - 06Z'),
  txt(29, 677, 'Diagramme des ensembles GEFS sur 384h pour Paris 10čme Arrondissement', { font: 'bold 11.5px ' + FONT }),
  txt(29, 692, 'Température 2m (°C) , précipitations (mm)'),
  txt(452, 692, 'Copyright 2025 Meteociel.fr', { font: 'bold 11.5px ' + FONT })
];
for (let k = 0; k < memberColors.length; k++) {
  graphics.push({ type: 'rect', silent: true, shape: { x: 400 + 11 * k, y: 650, width: 10, height: 6 }, style: { fill: memberColors[k] } });
  graphics.push(txt(405 + 11 * k, 644, (k + 1 < 10 ? '0' : '') + (k + 1), { font: 'bold 7px ' + FONT, align: 'center', textAlign: 'center' }));
}

const labelStyle = { color: '#000', fontFamily: FONT, fontSize: 10 };
const chart = echarts.init(document.getElementById('c'), null, { renderer: 'canvas' });
chart.setOption({
  animation: false,
  backgroundColor: '#fff',
  grid: { left: 50, right: 50, top: 0, bottom: 100, containLabel: false },
  xAxis: {
    type: 'category', data: categories, boundaryGap: false,
    axisLine: { show: true, onZero: false, lineStyle: { color: '#000', width: 1 } },
    axisTick: { show: false },
    axisLabel: Object.assign({
      interval: (idx) => isDay(idx), rotate: 90, margin: 3,
      align: 'right', verticalAlign: 'top', padding: [3, 0, 0, 0],
      formatter: (val, idx) => dayLabels[(idx - 3) / 4] || ''
    }, labelStyle),
    splitLine: { show: true, interval: (idx) => isDay(idx), lineStyle: { color: '#c0c0c0', width: 1 } }
  },
  yAxis: [
    {
      type: 'value', position: 'left', min: -265 / 7, max: 335 / 7,
      axisLine: { show: true, lineStyle: { color: '#000', width: 1 } },
      axisTick: { show: false },
      splitLine: { show: false },
      axisLabel: Object.assign({ customValues: tempTicks, align: 'left', margin: 30, padding: [5, 0, 0, 0] }, labelStyle)
    },
    {
      type: 'value', position: 'right', min: -55 / 7, max: 545 / 7,
      axisLine: { show: true, lineStyle: { color: '#000', width: 1 } },
      axisTick: { show: false },
      splitLine: { show: false },
      axisLabel: Object.assign({ customValues: precipTicks, align: 'left', margin: 20, padding: [5, 0, 0, 0] }, labelStyle)
    }
  ],
  series: series,
  graphic: graphics
});
</script>
</body></html>
